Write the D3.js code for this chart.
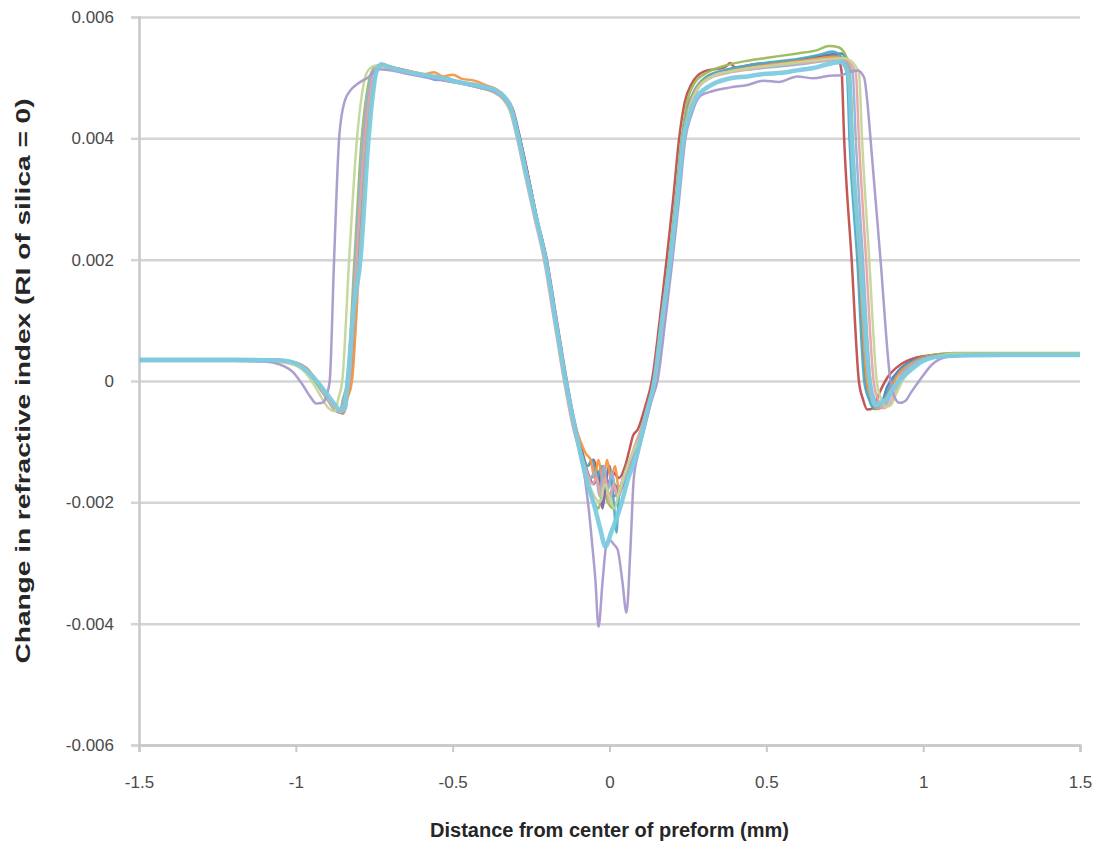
<!DOCTYPE html>
<html>
<head>
<meta charset="utf-8">
<script src="https://cdn.jsdelivr.net/npm/d3@7"></script>
<style>
  body { margin: 0; background: #fff; }
  text { font-family: "Liberation Sans", Arial, sans-serif; }
</style>
</head>
<body>
<script>
//Declare consts/global variables
    const width = 1102;
    const height = 846;
    const margin = {top: 17, right: 22, bottom: 101, left: 139};

//Tick values and labels
    const xTicks = [-1.5, -1, -0.5, 0, 0.5, 1, 1.5];
    const xTickLabels = ["-1.5", "-1", "-0.5", "0", "0.5", "1", "1.5"];
    const yTicks = [0.006, 0.004, 0.002, 0, -0.002, -0.004, -0.006];
    const yTickLabels = ["0.006", "0.004", "0.002", "0", "-0.002", "-0.004", "-0.006"];

//Profiles: [distance (mm), change in RI]
    const blue = [[-1.5,0.00034],[-1.2,0.00034],[-1.06,0.00033],[-1.0,0.00028],[-0.96,0.00016],[-0.93,-0.00006],[-0.9,-0.00029],[-0.875,-0.00046],[-0.855,-0.00052],[-0.845,-0.0003],[-0.83,0],[-0.81,0.002],[-0.785,0.004],[-0.77,0.0047],[-0.755,0.0051],[-0.735,0.0052],[-0.7,0.00516],[-0.65,0.0051],[-0.6,0.00505],[-0.55,0.00499],[-0.5,0.00495],[-0.45,0.0049],[-0.41,0.00485],[-0.37,0.00478],[-0.34,0.00469],[-0.315,0.00449],[-0.29,0.004],[-0.264,0.0034],[-0.235,0.0027],[-0.204,0.002],[-0.172,0.001],[-0.14,0],[-0.11,-0.0008],[-0.085,-0.0013],[-0.06,-0.0016],[-0.04,-0.0015],[-0.028,-0.0018],[-0.015,-0.0016],[0,-0.0019],[0.015,-0.0017],[0.03,-0.0018],[0.05,-0.0015],[0.075,-0.0012],[0.1,-0.0009],[0.125,-0.0004],[0.145,0],[0.17,0.001],[0.192,0.002],[0.213,0.003],[0.232,0.004],[0.25,0.0045],[0.273,0.0048],[0.31,0.005],[0.36,0.0051],[0.42,0.00516],[0.5,0.00522],[0.58,0.00528],[0.65,0.00534],[0.7,0.00538],[0.74,0.0054],[0.76,0.0052],[0.77,0.004],[0.795,0.002],[0.818,0],[0.832,-0.0003],[0.847,-0.00045],[0.865,-0.0004],[0.885,-0.0001],[0.91,0.0001],[0.95,0.0003],[1.01,0.0004],[1.1,0.00044],[1.5,0.00044]];

    const red = [[-1.5,0.00035],[-1.2,0.00035],[-1.06,0.00034],[-1.0,0.0003],[-0.96,0.00018],[-0.93,-0.00003],[-0.9,-0.00026],[-0.872,-0.00045],[-0.85,-0.00053],[-0.84,-0.0003],[-0.825,0],[-0.803,0.002],[-0.778,0.004],[-0.763,0.0047],[-0.748,0.0051],[-0.728,0.00521],[-0.69,0.00517],[-0.64,0.00511],[-0.59,0.00504],[-0.54,0.005],[-0.49,0.00494],[-0.44,0.00489],[-0.4,0.00484],[-0.36,0.00476],[-0.335,0.00466],[-0.31,0.00445],[-0.286,0.004],[-0.26,0.0034],[-0.232,0.0027],[-0.2,0.002],[-0.168,0.001],[-0.136,0],[-0.11,-0.0007],[-0.09,-0.0011],[-0.07,-0.0014],[-0.05,-0.0013],[-0.035,-0.0016],[-0.02,-0.0014],[-0.005,-0.0017],[0.01,-0.0015],[0.03,-0.0016],[0.05,-0.0014],[0.065,-0.0011],[0.075,-0.0009],[0.09,-0.0008],[0.115,-0.0004],[0.135,0],[0.16,0.001],[0.182,0.002],[0.203,0.003],[0.222,0.004],[0.24,0.0046],[0.262,0.0049],[0.3,0.0051],[0.37,0.00518],[0.385,0.00524],[0.4,0.00517],[0.46,0.00522],[0.54,0.00526],[0.62,0.0053],[0.69,0.00534],[0.725,0.00535],[0.74,0.0051],[0.748,0.004],[0.772,0.002],[0.795,0],[0.808,-0.0003],[0.822,-0.00047],[0.84,-0.00045],[0.86,-0.0002],[0.885,0.00005],[0.93,0.00028],[1.0,0.00041],[1.1,0.00045],[1.5,0.00045]];

    const green = [[-1.5,0.00034],[-1.2,0.00034],[-1.06,0.00033],[-1.0,0.00027],[-0.96,0.00014],[-0.93,-0.00008],[-0.9,-0.0003],[-0.88,-0.00046],[-0.86,-0.00052],[-0.85,-0.0003],[-0.836,0],[-0.813,0.002],[-0.79,0.004],[-0.775,0.0047],[-0.758,0.0051],[-0.738,0.0052],[-0.7,0.00515],[-0.65,0.00509],[-0.6,0.00503],[-0.55,0.00498],[-0.5,0.00493],[-0.45,0.00488],[-0.41,0.00483],[-0.37,0.00477],[-0.34,0.00467],[-0.315,0.00447],[-0.291,0.004],[-0.265,0.0034],[-0.236,0.0027],[-0.205,0.002],[-0.173,0.001],[-0.141,0],[-0.112,-0.0008],[-0.09,-0.0013],[-0.068,-0.0017],[-0.05,-0.002],[-0.035,-0.0021],[-0.02,-0.0018],[-0.005,-0.002],[0.012,-0.0021],[0.03,-0.0019],[0.05,-0.0016],[0.075,-0.0012],[0.1,-0.0008],[0.125,-0.0004],[0.142,0],[0.167,0.001],[0.19,0.002],[0.211,0.003],[0.23,0.004],[0.248,0.0046],[0.27,0.0049],[0.31,0.00508],[0.37,0.0052],[0.44,0.00528],[0.52,0.00534],[0.6,0.0054],[0.66,0.00545],[0.7,0.00552],[0.73,0.0055],[0.765,0.0052],[0.775,0.004],[0.8,0.002],[0.824,0],[0.838,-0.0003],[0.853,-0.00045],[0.872,-0.0004],[0.89,-0.0002],[0.915,0.00008],[0.96,0.0003],[1.03,0.00043],[1.1,0.00046],[1.5,0.00046]];

    const purple = [[-1.5,0.00034],[-1.2,0.00034],[-1.06,0.00033],[-1.0,0.00029],[-0.96,0.00016],[-0.93,-0.00005],[-0.9,-0.00028],[-0.875,-0.00046],[-0.852,-0.00053],[-0.842,-0.0003],[-0.828,0],[-0.806,0.002],[-0.782,0.004],[-0.767,0.0047],[-0.75,0.0051],[-0.73,0.0052],[-0.69,0.00516],[-0.64,0.0051],[-0.59,0.00504],[-0.54,0.00499],[-0.49,0.00494],[-0.44,0.00489],[-0.4,0.00485],[-0.36,0.00478],[-0.333,0.00468],[-0.308,0.00448],[-0.285,0.004],[-0.26,0.0034],[-0.232,0.0027],[-0.201,0.002],[-0.17,0.001],[-0.139,0],[-0.11,-0.0008],[-0.088,-0.0012],[-0.07,-0.0015],[-0.05,-0.0017],[-0.035,-0.0015],[-0.022,-0.0021],[-0.012,-0.0017],[0,-0.0014],[0.012,-0.0019],[0.03,-0.0018],[0.05,-0.0015],[0.075,-0.0012],[0.1,-0.0009],[0.127,-0.0004],[0.148,0],[0.173,0.001],[0.196,0.002],[0.217,0.003],[0.236,0.004],[0.255,0.0045],[0.278,0.0048],[0.32,0.00501],[0.38,0.00512],[0.45,0.00518],[0.53,0.00524],[0.61,0.00529],[0.68,0.00534],[0.72,0.00536],[0.76,0.0051],[0.77,0.004],[0.794,0.002],[0.817,0],[0.832,-0.0003],[0.848,-0.00046],[0.866,-0.00042],[0.886,-0.0002],[0.91,0.00006],[0.95,0.00027],[1.02,0.0004],[1.1,0.00044],[1.5,0.00044]];

    const aqua = [[-1.5,0.00035],[-1.2,0.00035],[-1.06,0.00034],[-1.0,0.00029],[-0.96,0.00017],[-0.93,-0.00004],[-0.9,-0.00027],[-0.876,-0.00045],[-0.848,-0.00053],[-0.838,-0.0003],[-0.824,0],[-0.8,0.002],[-0.776,0.004],[-0.761,0.0047],[-0.745,0.0051],[-0.725,0.00522],[-0.69,0.00516],[-0.64,0.0051],[-0.59,0.00503],[-0.55,0.00496],[-0.52,0.00499],[-0.48,0.00492],[-0.43,0.00488],[-0.39,0.00483],[-0.355,0.00474],[-0.33,0.00462],[-0.308,0.0044],[-0.287,0.004],[-0.262,0.0034],[-0.233,0.0027],[-0.202,0.002],[-0.17,0.001],[-0.138,0],[-0.11,-0.0008],[-0.088,-0.0012],[-0.07,-0.0014],[-0.055,-0.0013],[-0.04,-0.0016],[-0.025,-0.0014],[-0.01,-0.0018],[0.005,-0.0016],[0.015,-0.0021],[0.022,-0.0025],[0.03,-0.0019],[0.045,-0.0017],[0.06,-0.0015],[0.08,-0.0012],[0.105,-0.0008],[0.128,-0.0003],[0.145,0],[0.17,0.001],[0.193,0.002],[0.214,0.003],[0.233,0.004],[0.25,0.0045],[0.272,0.0048],[0.31,0.00502],[0.37,0.00513],[0.44,0.0052],[0.52,0.00526],[0.6,0.00531],[0.67,0.00538],[0.71,0.00543],[0.745,0.0053],[0.758,0.005],[0.765,0.004],[0.79,0.002],[0.812,0],[0.827,-0.0003],[0.843,-0.00046],[0.862,-0.00043],[0.884,-0.0002],[0.91,0.00005],[0.95,0.00027],[1.02,0.0004],[1.1,0.00043],[1.5,0.00043]];

    const orange = [[-1.5,0.00035],[-1.2,0.00035],[-1.06,0.00034],[-1.0,0.0003],[-0.96,0.00018],[-0.93,-0.00003],[-0.9,-0.00026],[-0.874,-0.00045],[-0.846,-0.00052],[-0.836,-0.0003],[-0.821,0],[-0.797,0.002],[-0.772,0.004],[-0.757,0.0047],[-0.742,0.0051],[-0.722,0.0052],[-0.69,0.00517],[-0.66,0.00513],[-0.62,0.00509],[-0.59,0.00506],[-0.56,0.00509],[-0.53,0.00502],[-0.5,0.00505],[-0.47,0.00498],[-0.43,0.00495],[-0.39,0.00487],[-0.36,0.00481],[-0.335,0.0047],[-0.31,0.00449],[-0.288,0.004],[-0.262,0.0034],[-0.233,0.0027],[-0.203,0.002],[-0.171,0.001],[-0.14,0],[-0.112,-0.0007],[-0.092,-0.001],[-0.075,-0.0012],[-0.06,-0.0013],[-0.048,-0.0016],[-0.035,-0.0013],[-0.02,-0.0017],[-0.008,-0.0013],[0.005,-0.0016],[0.018,-0.0014],[0.03,-0.0018],[0.045,-0.0016],[0.062,-0.0014],[0.08,-0.0011],[0.105,-0.0008],[0.128,-0.0003],[0.146,0],[0.171,0.001],[0.194,0.002],[0.215,0.003],[0.234,0.004],[0.252,0.0045],[0.275,0.0048],[0.315,0.005],[0.375,0.0051],[0.44,0.00516],[0.52,0.00522],[0.6,0.00527],[0.67,0.00532],[0.72,0.00535],[0.76,0.0052],[0.772,0.004],[0.796,0.002],[0.82,0],[0.835,-0.0003],[0.852,-0.00046],[0.87,-0.00042],[0.89,-0.0002],[0.915,0.00006],[0.96,0.00028],[1.03,0.00041],[1.1,0.00044],[1.5,0.00044]];

    const lightBlue = [[-1.5,0.00034],[-1.2,0.00034],[-1.06,0.00033],[-1.0,0.00028],[-0.96,0.00015],[-0.93,-0.00006],[-0.9,-0.00029],[-0.877,-0.00046],[-0.858,-0.00052],[-0.848,-0.0003],[-0.833,0],[-0.81,0.002],[-0.786,0.004],[-0.771,0.0047],[-0.755,0.0051],[-0.735,0.00519],[-0.7,0.00515],[-0.65,0.00509],[-0.6,0.00503],[-0.55,0.00498],[-0.5,0.00494],[-0.45,0.00489],[-0.41,0.00484],[-0.37,0.00478],[-0.34,0.00469],[-0.315,0.00448],[-0.29,0.004],[-0.264,0.0034],[-0.235,0.0027],[-0.204,0.002],[-0.172,0.001],[-0.14,0],[-0.11,-0.0008],[-0.085,-0.0013],[-0.062,-0.0016],[-0.045,-0.0015],[-0.032,-0.0019],[-0.018,-0.0014],[-0.005,-0.0018],[0.008,-0.0015],[0.022,-0.0019],[0.04,-0.0017],[0.06,-0.0015],[0.08,-0.0012],[0.105,-0.0009],[0.13,-0.0004],[0.15,0],[0.175,0.001],[0.198,0.002],[0.219,0.003],[0.238,0.004],[0.257,0.0045],[0.28,0.0048],[0.32,0.005],[0.38,0.0051],[0.45,0.00514],[0.53,0.00518],[0.61,0.00522],[0.68,0.00527],[0.74,0.0053],[0.775,0.0051],[0.785,0.004],[0.808,0.002],[0.832,0],[0.846,-0.0003],[0.862,-0.00045],[0.88,-0.0004],[0.9,-0.0002],[0.925,0.00006],[0.965,0.00027],[1.03,0.0004],[1.1,0.00043],[1.5,0.00043]];

    const salmon = [[-1.5,0.00034],[-1.2,0.00034],[-1.06,0.00033],[-1.0,0.00028],[-0.96,0.00016],[-0.93,-0.00005],[-0.9,-0.00028],[-0.876,-0.00045],[-0.853,-0.00051],[-0.843,-0.0003],[-0.829,0],[-0.806,0.002],[-0.78,0.004],[-0.765,0.0047],[-0.75,0.0051],[-0.73,0.0052],[-0.7,0.00516],[-0.65,0.0051],[-0.6,0.00504],[-0.55,0.00499],[-0.5,0.00494],[-0.45,0.00488],[-0.41,0.00483],[-0.37,0.00476],[-0.343,0.00466],[-0.318,0.00446],[-0.295,0.004],[-0.27,0.0034],[-0.24,0.0027],[-0.209,0.002],[-0.177,0.001],[-0.145,0],[-0.115,-0.0008],[-0.092,-0.0012],[-0.072,-0.0015],[-0.055,-0.0017],[-0.04,-0.0016],[-0.028,-0.0019],[-0.015,-0.0016],[0,-0.002],[0.012,-0.0017],[0.028,-0.0019],[0.045,-0.0016],[0.065,-0.0013],[0.085,-0.001],[0.108,-0.0007],[0.13,-0.0003],[0.147,0],[0.172,0.001],[0.195,0.002],[0.216,0.003],[0.235,0.004],[0.254,0.0045],[0.277,0.0048],[0.32,0.00499],[0.38,0.00508],[0.45,0.00514],[0.53,0.0052],[0.61,0.00524],[0.68,0.00528],[0.74,0.00532],[0.785,0.0051],[0.795,0.004],[0.818,0.002],[0.842,0],[0.856,-0.0003],[0.872,-0.00045],[0.89,-0.0004],[0.91,-0.0002],[0.935,0.00006],[0.975,0.00027],[1.04,0.0004],[1.1,0.00044],[1.5,0.00044]];

    const lightGreen = [[-1.5,0.00033],[-1.2,0.00033],[-1.07,0.00032],[-1.01,0.00027],[-0.97,0.00014],[-0.94,-0.00008],[-0.915,-0.0003],[-0.895,-0.00045],[-0.875,-0.0005],[-0.865,-0.0003],[-0.852,0],[-0.83,0.002],[-0.805,0.004],[-0.79,0.0047],[-0.772,0.0051],[-0.745,0.0052],[-0.7,0.00515],[-0.65,0.00509],[-0.6,0.00503],[-0.55,0.00498],[-0.5,0.00493],[-0.45,0.00488],[-0.41,0.00483],[-0.37,0.00476],[-0.342,0.00466],[-0.317,0.00445],[-0.293,0.004],[-0.267,0.0034],[-0.238,0.0027],[-0.206,0.002],[-0.174,0.001],[-0.142,0],[-0.112,-0.0008],[-0.088,-0.0013],[-0.065,-0.0017],[-0.048,-0.0019],[-0.03,-0.002],[-0.015,-0.0017],[0,-0.0019],[0.015,-0.0021],[0.032,-0.0018],[0.05,-0.0015],[0.072,-0.0012],[0.1,-0.0009],[0.128,-0.0004],[0.149,0],[0.174,0.001],[0.197,0.002],[0.218,0.003],[0.237,0.004],[0.256,0.0045],[0.279,0.0048],[0.32,0.005],[0.38,0.0051],[0.45,0.00516],[0.53,0.00521],[0.61,0.00526],[0.68,0.0053],[0.75,0.00532],[0.795,0.0051],[0.805,0.004],[0.828,0.002],[0.852,0],[0.866,-0.0003],[0.88,-0.00043],[0.897,-0.0004],[0.915,-0.0002],[0.94,0.00006],[0.98,0.00028],[1.04,0.0004],[1.1,0.00045],[1.5,0.00045]];

    const lightPurple = [[-1.5,0.00033],[-1.2,0.00033],[-1.1,0.00032],[-1.05,0.00027],[-1.01,0.00015],[-0.98,-0.00005],[-0.955,-0.00025],[-0.935,-0.00037],[-0.915,-0.00036],[-0.9,-0.0002],[-0.892,0],[-0.878,0.002],[-0.862,0.004],[-0.845,0.0046],[-0.826,0.00479],[-0.803,0.0049],[-0.771,0.005],[-0.735,0.00514],[-0.7,0.00512],[-0.65,0.00507],[-0.6,0.00502],[-0.55,0.00497],[-0.5,0.00493],[-0.45,0.00488],[-0.41,0.00483],[-0.37,0.00477],[-0.34,0.00467],[-0.315,0.00447],[-0.29,0.004],[-0.264,0.0034],[-0.235,0.0027],[-0.204,0.002],[-0.172,0.001],[-0.14,0],[-0.11,-0.0008],[-0.088,-0.0013],[-0.067,-0.00207],[-0.055,-0.0027],[-0.045,-0.00328],[-0.035,-0.00405],[-0.022,-0.0033],[-0.01,-0.0027],[0,-0.00262],[0.015,-0.0027],[0.026,-0.00278],[0.041,-0.0033],[0.054,-0.00382],[0.067,-0.00273],[0.077,-0.00163],[0.089,-0.00125],[0.11,-0.0008],[0.135,-0.0003],[0.153,0],[0.178,0.001],[0.201,0.002],[0.222,0.003],[0.242,0.004],[0.262,0.0044],[0.29,0.0047],[0.33,0.00478],[0.386,0.00484],[0.44,0.00488],[0.491,0.00495],[0.54,0.00493],[0.599,0.00502],[0.65,0.00499],[0.7,0.00503],[0.736,0.00504],[0.76,0.00508],[0.791,0.00512],[0.812,0.005],[0.822,0.0046],[0.832,0.004],[0.864,0.002],[0.896,0],[0.91,-0.00028],[0.925,-0.00036],[0.945,-0.00032],[0.96,-0.0002],[0.99,0.00002],[1.03,0.00028],[1.08,0.0004],[1.15,0.00042],[1.5,0.00042]];

    const lightCyan = [[-1.5,0.00035],[-1.2,0.00035],[-1.05,0.00034],[-1.0,0.00029],[-0.97,0.00019],[-0.937,0.00002],[-0.906,-0.00018],[-0.88,-0.00036],[-0.86,-0.00047],[-0.845,-0.00047],[-0.835,0],[-0.815,0.0012],[-0.794,0.002],[-0.768,0.004],[-0.755,0.0047],[-0.743,0.0051],[-0.727,0.00522],[-0.705,0.00518],[-0.666,0.00512],[-0.6,0.00505],[-0.54,0.005],[-0.475,0.00492],[-0.411,0.00486],[-0.363,0.00479],[-0.338,0.0047],[-0.316,0.00452],[-0.29,0.004],[-0.268,0.00347],[-0.236,0.00273],[-0.204,0.002],[-0.172,0.001],[-0.14,0],[-0.102,-0.00097],[-0.077,-0.00155],[-0.045,-0.00212],[-0.029,-0.00245],[-0.013,-0.00273],[0.005,-0.0025],[0.035,-0.00207],[0.06,-0.0016],[0.089,-0.00119],[0.115,-0.0006],[0.143,0],[0.17,0.0011],[0.194,0.002],[0.216,0.003],[0.236,0.004],[0.255,0.0044],[0.274,0.00465],[0.306,0.00482],[0.332,0.0049],[0.386,0.00499],[0.44,0.00502],[0.491,0.00506],[0.55,0.00508],[0.599,0.00512],[0.65,0.00516],[0.695,0.00522],[0.736,0.00526],[0.755,0.00515],[0.765,0.0049],[0.772,0.004],[0.8,0.002],[0.829,0],[0.848,-0.0004],[0.865,-0.00036],[0.88,-0.00031],[0.912,-0.00007],[0.96,0.00018],[1.007,0.00035],[1.071,0.00041],[1.246,0.00043],[1.5,0.00043]];

    const seriesNames = ["blue", "red", "green", "purple", "aqua", "orange", "lightBlue", "salmon", "lightGreen", "lightPurple", "lightCyan"];
    const seriesData = [blue, red, green, purple, aqua, orange, lightBlue, salmon, lightGreen, lightPurple, lightCyan];
    const seriesColors = ["#4F81BD", "#C0504D", "#9BBB59", "#8064A2", "#4BACC6", "#F79646", "#95B3D7", "#E6A5A3", "#C3D69B", "#A899CC", "#7CCBE0"];

//Scales
    const xScale = d3.scaleLinear()
                    .domain([-1.5, 1.5])
                    .range([margin.left, width - margin.right]);

    const yScale = d3.scaleLinear()
                    .domain([-0.006, 0.006])
                    .range([height - margin.bottom, margin.top]);

//SVG
    const svg = d3.select("body")
                .append("svg")
                .attr("width", width)
                .attr("height", height);

//Gridlines (drawn as a left axis with long ticks)
    const grid = svg.append("g")
        .attr("transform", "translate(" + margin.left + ",0)")
        .call(d3.axisLeft(yScale)
                .tickValues(yTicks)
                .tickSize(-(width - margin.left - margin.right))
                .tickFormat(""));
    grid.select(".domain").remove();
    grid.selectAll("line").attr("stroke", "#d4d4d4").attr("stroke-width", 2.5);

//Axes
    const leftAxis = svg.append("g")
        .attr("transform", "translate(" + margin.left + ",0)")
        .call(d3.axisLeft(yScale)
                .tickValues(yTicks)
                .tickSize(8)
                .tickPadding(17)
                .tickFormat((d, i) => yTickLabels[i]));
    leftAxis.select(".domain").attr("stroke", "#c8c8c8").attr("stroke-width", 2.5);
    leftAxis.selectAll(".tick line").attr("stroke", "#d4d4d4").attr("stroke-width", 2.5);
    leftAxis.selectAll("text")
        .attr("font-size", 17)
        .attr("fill", "#4a4a4a");

    const bottomAxis = svg.append("g")
        .attr("transform", "translate(0," + (height - margin.bottom) + ")")
        .call(d3.axisBottom(xScale)
                .tickValues(xTicks)
                .tickSize(7)
                .tickPadding(24)
                .tickFormat((d, i) => xTickLabels[i]));
    bottomAxis.select(".domain").attr("stroke", "#c8c8c8").attr("stroke-width", 2.5);
    bottomAxis.selectAll(".tick line").attr("stroke", "#c8c8c8").attr("stroke-width", 2);
    bottomAxis.selectAll("text")
        .attr("font-size", 17)
        .attr("fill", "#4a4a4a");

//Lines
    const line = d3.line()
        .x(d => xScale(d[0]))
        .y(d => yScale(d[1]))
        .curve(d3.curveMonotoneX);

    svg.append("g")
        .selectAll("path")
        .data(seriesData)
        .enter()
        .append("path")
        .attr("d", d => line(d))
        .attr("fill", "none")
        .attr("stroke", (d, i) => seriesColors[i])
        .attr("stroke-width", (d, i) => seriesNames[i] === "lightCyan" ? 4.5 : 2.5)
        .attr("stroke-linejoin", "round")
        .attr("stroke-opacity", 0.95);

//Axis titles
    svg.append("text")
        .attr("x", (margin.left + width - margin.right) / 2)
        .attr("y", 837)
        .attr("text-anchor", "middle")
        .attr("font-size", 20)
        .attr("font-weight", "bold")
        .attr("fill", "#262626")
        .text("Distance from center of preform (mm)");

    svg.append("text")
        .attr("transform", "translate(30," + yScale(0) + ") rotate(-90)")
        .attr("text-anchor", "middle")
        .attr("font-size", 20)
        .attr("font-weight", "bold")
        .attr("fill", "#262626")
        .attr("textLength", 565)
        .attr("lengthAdjust", "spacingAndGlyphs")
        .text("Change in refractive index (RI of silica = 0)");
</script>
</body>
</html>
